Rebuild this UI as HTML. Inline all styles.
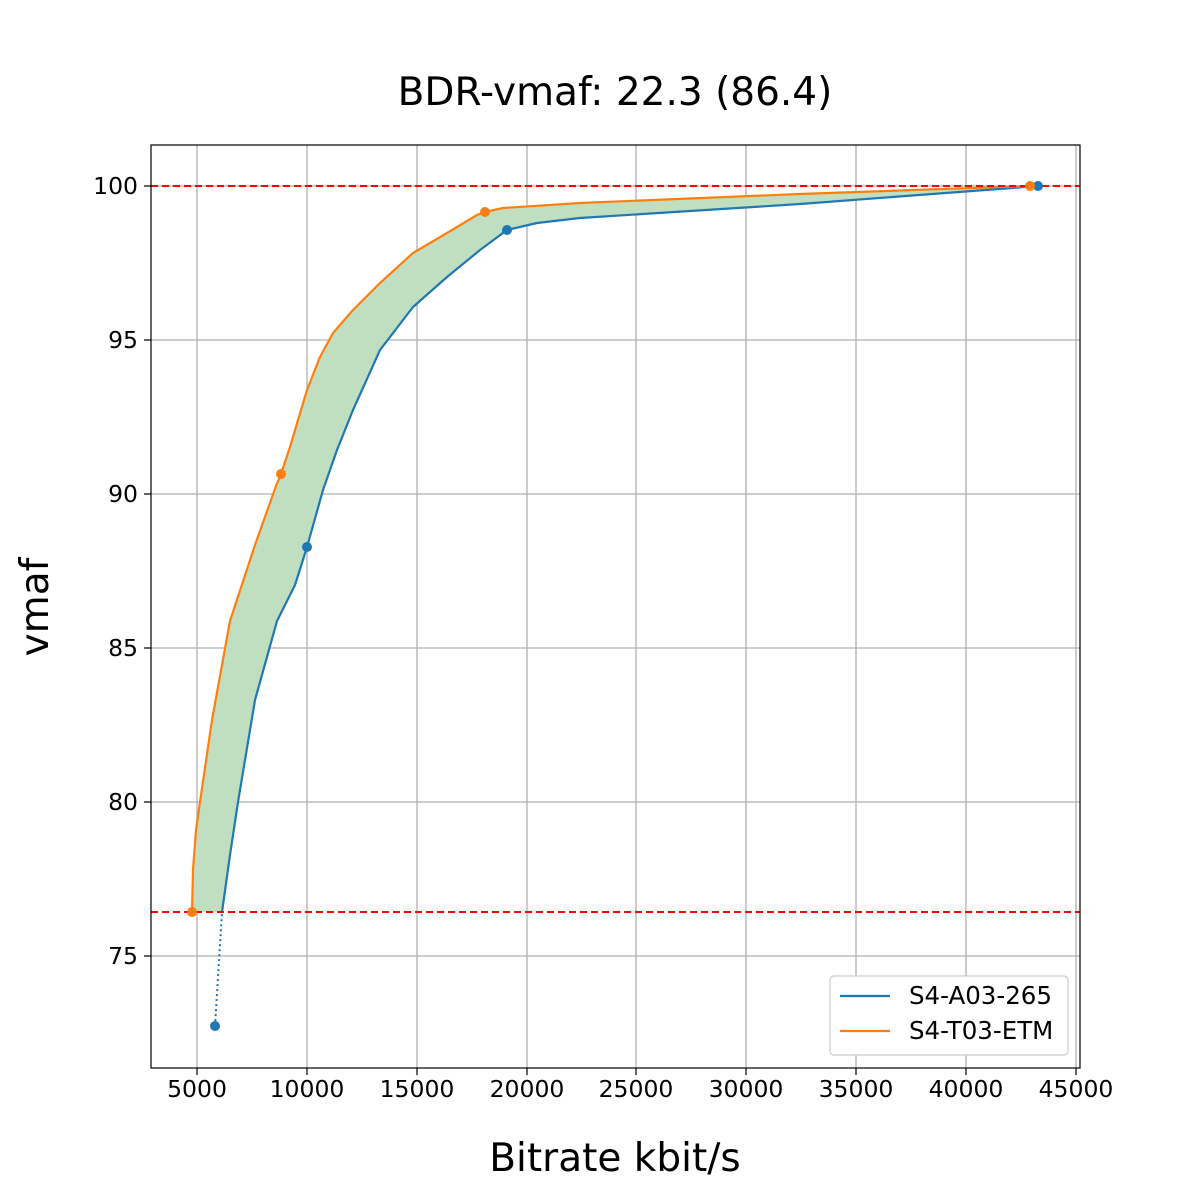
<!DOCTYPE html>
<html><head><style>body{margin:0;background:#fff}svg{display:block}text{font-family:"DejaVu Sans","Liberation Sans",sans-serif}</style></head>
<body>
<svg width="1200" height="1200" viewBox="0 0 1200 1200" xmlns="http://www.w3.org/2000/svg">
<rect width="1200" height="1200" fill="#fff"/>
<text x="615" y="105" font-size="39" text-anchor="middle">BDR-vmaf: 22.3 (86.4)</text>
<g stroke="#b0b0b0" stroke-width="1.3">
<line x1="197" y1="145" x2="197" y2="1068"/><line x1="307" y1="145" x2="307" y2="1068"/><line x1="417" y1="145" x2="417" y2="1068"/><line x1="527" y1="145" x2="527" y2="1068"/><line x1="636" y1="145" x2="636" y2="1068"/><line x1="746" y1="145" x2="746" y2="1068"/><line x1="856" y1="145" x2="856" y2="1068"/><line x1="966" y1="145" x2="966" y2="1068"/><line x1="1076" y1="145" x2="1076" y2="1068"/>
<line x1="151" y1="186" x2="1080" y2="186"/><line x1="151" y1="340" x2="1080" y2="340"/><line x1="151" y1="494" x2="1080" y2="494"/><line x1="151" y1="648" x2="1080" y2="648"/><line x1="151" y1="802" x2="1080" y2="802"/><line x1="151" y1="956" x2="1080" y2="956"/>
</g>
<path d="M192,912 L193,870 L196,830 L200,802 L212,720 L230,621 L255,545 L276,486 L281,474 L290,447 L307,390 L320,357 L333,333 L353,310 L380,283 L413,253 L447,233 L477,215 L485,212 L503,208 L580,203 L800,194 L1030,186 L1038,186 L800,204 L580,218 L537,223 L507,230 L480,250 L447,277 L413,307 L380,350 L353,410 L337,450 L323,490 L307,547 L295,585 L277,621 L255,700 L238,802 L230,855 L222,912 Z" fill="#c0dfc0"/>
<polyline points="215,1026 222,912" fill="none" stroke="#1f77b4" stroke-width="2" stroke-dasharray="2,3"/>
<polyline points="222,912 230,855 238,802 255,700 277,621 295,585 307,547 323,490 337,450 353,410 380,350 413,307 447,277 480,250 507,230 537,223 580,218 800,204 1038,186" fill="none" stroke="#1f77b4" stroke-width="2.2" stroke-linejoin="round"/>
<polyline points="192,912 193,870 196,830 200,802 212,720 230,621 255,545 276,486 281,474 290,447 307,390 320,357 333,333 353,310 380,283 413,253 447,233 477,215 485,212 503,208 580,203 800,194 1030,186" fill="none" stroke="#ff7f0e" stroke-width="2.2" stroke-linejoin="round"/>
<line x1="151" y1="186" x2="1080" y2="186" stroke="#ff0000" stroke-width="2" stroke-dasharray="7,4"/>
<line x1="151" y1="912" x2="1080" y2="912" stroke="#ff0000" stroke-width="2" stroke-dasharray="7,4"/>
<g fill="#1f77b4"><circle cx="215" cy="1026" r="5"/><circle cx="307" cy="547" r="5"/><circle cx="507" cy="230" r="5"/><circle cx="1038" cy="186" r="5"/></g>
<g fill="#ff7f0e"><circle cx="192" cy="912" r="5"/><circle cx="281" cy="474" r="5"/><circle cx="485" cy="212" r="5"/><circle cx="1030" cy="186" r="5"/></g>
<rect x="151" y="145" width="929" height="923" fill="none" stroke="#000" stroke-width="1.2"/>
<g stroke="#000" stroke-width="1.2">
<line x1="197" y1="1068" x2="197" y2="1075"/><line x1="307" y1="1068" x2="307" y2="1075"/><line x1="417" y1="1068" x2="417" y2="1075"/><line x1="527" y1="1068" x2="527" y2="1075"/><line x1="636" y1="1068" x2="636" y2="1075"/><line x1="746" y1="1068" x2="746" y2="1075"/><line x1="856" y1="1068" x2="856" y2="1075"/><line x1="966" y1="1068" x2="966" y2="1075"/><line x1="1076" y1="1068" x2="1076" y2="1075"/>
<line x1="144" y1="186" x2="151" y2="186"/><line x1="144" y1="340" x2="151" y2="340"/><line x1="144" y1="494" x2="151" y2="494"/><line x1="144" y1="648" x2="151" y2="648"/><line x1="144" y1="802" x2="151" y2="802"/><line x1="144" y1="956" x2="151" y2="956"/>
</g>
<g font-size="23.5" text-anchor="middle">
<text x="197" y="1097">5000</text><text x="307" y="1097">10000</text><text x="417" y="1097">15000</text><text x="527" y="1097">20000</text><text x="636" y="1097">25000</text><text x="746" y="1097">30000</text><text x="856" y="1097">35000</text><text x="966" y="1097">40000</text><text x="1076" y="1097">45000</text>
</g>
<g font-size="23.5" text-anchor="end">
<text x="138" y="194">100</text><text x="138" y="348">95</text><text x="138" y="502">90</text><text x="138" y="656">85</text><text x="138" y="810">80</text><text x="138" y="964">75</text>
</g>
<text x="615" y="1171" font-size="39" text-anchor="middle">Bitrate kbit/s</text>
<text transform="translate(48,607) rotate(-90)" font-size="39" text-anchor="middle">vmaf</text>
<rect x="830" y="976" width="238" height="79" rx="4" fill="#fff" stroke="#ccc" stroke-width="1.2"/>
<line x1="840" y1="996" x2="890" y2="996" stroke="#1f77b4" stroke-width="2.2"/>
<line x1="840" y1="1031" x2="890" y2="1031" stroke="#ff7f0e" stroke-width="2.2"/>
<text x="909" y="1004" font-size="24.5">S4-A03-265</text>
<text x="909" y="1039" font-size="24.5">S4-T03-ETM</text>
</svg>
</body></html>
